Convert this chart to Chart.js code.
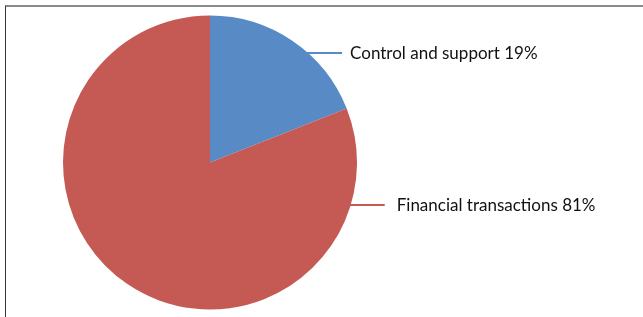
<!DOCTYPE html>
<html>
<head>
<meta charset="utf-8">
<script src="https://cdn.jsdelivr.net/npm/chart.js@4"></script>
<style>
  html, body { margin: 0; padding: 0; background: #fff; }
  #wrap { position: relative; width: 643px; height: 317px; }
  #frame { position: absolute; left: 5px; top: 5px; right: 0; bottom: -5px; border-top: 2px solid #8a8a8a; border-left: 1px solid #333; }
  canvas { position: absolute; left: 0; top: 0; }
</style>
</head>
<body>
<div id="wrap">
  <div id="frame"></div>
  <canvas id="pie" width="643" height="317"></canvas>
</div>
<script>
// share of work by type
const categories = ['Control and support', 'Financial transactions'];
const shares = [19, 81];
const sliceColors = ['#588ac6', '#c55a55'];
// label rows, as offset from pie centre in radii (negative = above)
const labelRowsR = [-0.745, 0.29];

// leader lines + labels on the right side, Excel style
const sideLabels = {
  id: 'sideLabels',
  afterDatasetsDraw(chart) {
    const arc = chart.getDatasetMeta(0).data[0];
    if (!arc) return;
    const { x: cx, y: cy, outerRadius: r } = arc.getProps(['x', 'y', 'outerRadius'], true);
    const ctx = chart.ctx;
    ctx.save();
    ctx.font = '17px Lato, "Open Sans", sans-serif';
    ctx.textBaseline = 'middle';
    categories.forEach((name, i) => {
      const y = Math.round(cy + labelRowsR[i] * r);
      const x0 = cx + Math.sqrt(r * r - (y - cy) * (y - cy));
      ctx.strokeStyle = sliceColors[i];
      ctx.lineWidth = 2;
      ctx.beginPath();
      ctx.moveTo(x0 - 1, y);
      ctx.lineTo(x0 + 34, y);
      ctx.stroke();
      ctx.fillStyle = '#111';
      ctx.fillText(name + ' ' + shares[i] + '%', x0 + 42 + i * 4, y + 1);
    });
    ctx.restore();
  }
};

new Chart(document.getElementById('pie'), {
  type: 'pie',
  data: {
    labels: categories,
    datasets: [{ data: shares, backgroundColor: sliceColors, borderWidth: 0 }]
  },
  options: {
    responsive: false,
    animation: false,
    layout: { padding: { left: 63, top: 15, right: 286, bottom: 7 } },
    plugins: { legend: { display: false }, tooltip: { enabled: false } }
  },
  plugins: [sideLabels]
});
</script>
</body>
</html>
